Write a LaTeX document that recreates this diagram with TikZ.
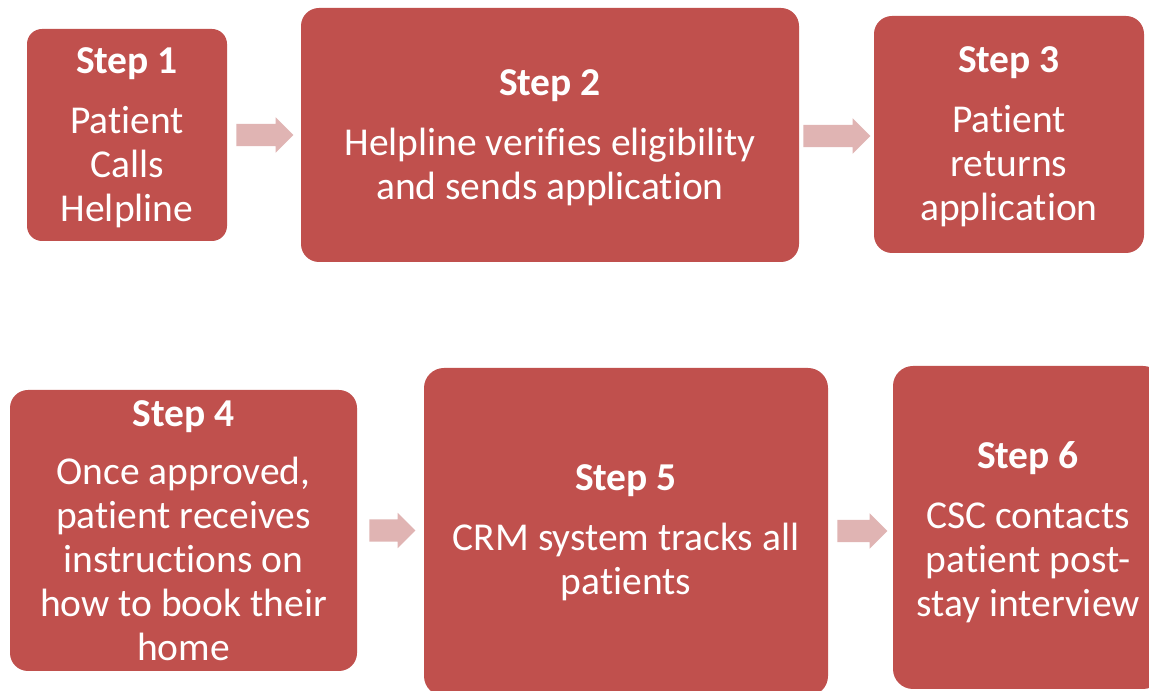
\documentclass[tikz,border=0pt]{standalone}
\usepackage{fontspec}
\setmainfont{Carlito}[Ligatures=NoCommon]
\usetikzlibrary{shapes.arrows,calc}
\definecolor{boxred}{HTML}{C0504D}
\definecolor{arrowpink}{HTML}{E0B4B3}
\tikzset{
  stepbox/.style={fill=boxred, draw=none, rounded corners=18pt, inner sep=0pt},
  steptext/.style={text=white, align=center, inner sep=0pt,
    font=\fontsize{39.5}{44}\selectfont},
  blockarrow/.style={single arrow, fill=arrowpink, draw=none, inner xsep=0pt, inner ysep=11pt,
    single arrow head extend=6.5pt, single arrow head indent=0pt, anchor=tail}
}
\begin{document}
\begin{tikzpicture}[x=1pt,y=1pt]
\useasboundingbox (0,0) rectangle (1149,691);
\clip (0,0) rectangle (1149,691);
\fill[white] (0,0) rectangle (1149,691);
\node[stepbox, minimum width=200pt, minimum height=212pt, rounded corners=15pt] (b1) at (127,556) {};
\node[steptext] (t1) at ([yshift=-2.5pt]b1.center)
  {\textbf{Step 1}\\[16pt]Patient\\Calls\\Helpline};
\node[stepbox, minimum width=498pt, minimum height=254pt] (b2) at (550,556) {};
\node[steptext] (t2) at ([yshift=-2.5pt]b2.center)
  {\textbf{Step 2}\\[16pt]Helpline verifies eligibility\\and sends application};
\node[stepbox, minimum width=270pt, minimum height=237pt] (b3) at (1009,556.5) {};
\node[steptext] (t3) at ([yshift=-2.5pt]b3.center)
  {\textbf{Step 3}\\[16pt]Patient\\returns\\application};
\node[stepbox, minimum width=347pt, minimum height=281pt] (b4) at (183.5,160.5) {};
\node[steptext] (t4) at ([yshift=-0.5pt]b4.center)
  {\textbf{Step 4}\\[14pt]Once approved,\\patient receives\\instructions on\\how to book their\\home};
\node[stepbox, minimum width=404pt, minimum height=328pt, rounded corners=20pt] (b5) at (626,159) {};
\node[steptext] (t5) at ([yshift=-0.5pt]b5.center)
  {\textbf{Step 5}\\[16pt]CRM system tracks all\\patients};
\node[stepbox, minimum width=270pt, minimum height=323pt, rounded corners=20pt] (b6) at (1028,163.5) {};
\node[steptext] (t6) at ([yshift=-5pt]b6.center)
  {\textbf{Step 6}\\[16pt]CSC contacts\\patient post-\\stay interview};
\node[blockarrow, minimum height=57pt] (a12) at ($(b1.east)+(9,0)$) {};
\node[blockarrow, minimum height=67pt] (a23) at ($(b2.east)+(4,-1)$) {};
\node[blockarrow, minimum height=46pt] (a45) at ($(b4.east)+(12,0)$) {};
\node[blockarrow, minimum height=50pt] (a56) at ($(b5.east)+(9,1)$) {};
\end{tikzpicture}
\end{document}
